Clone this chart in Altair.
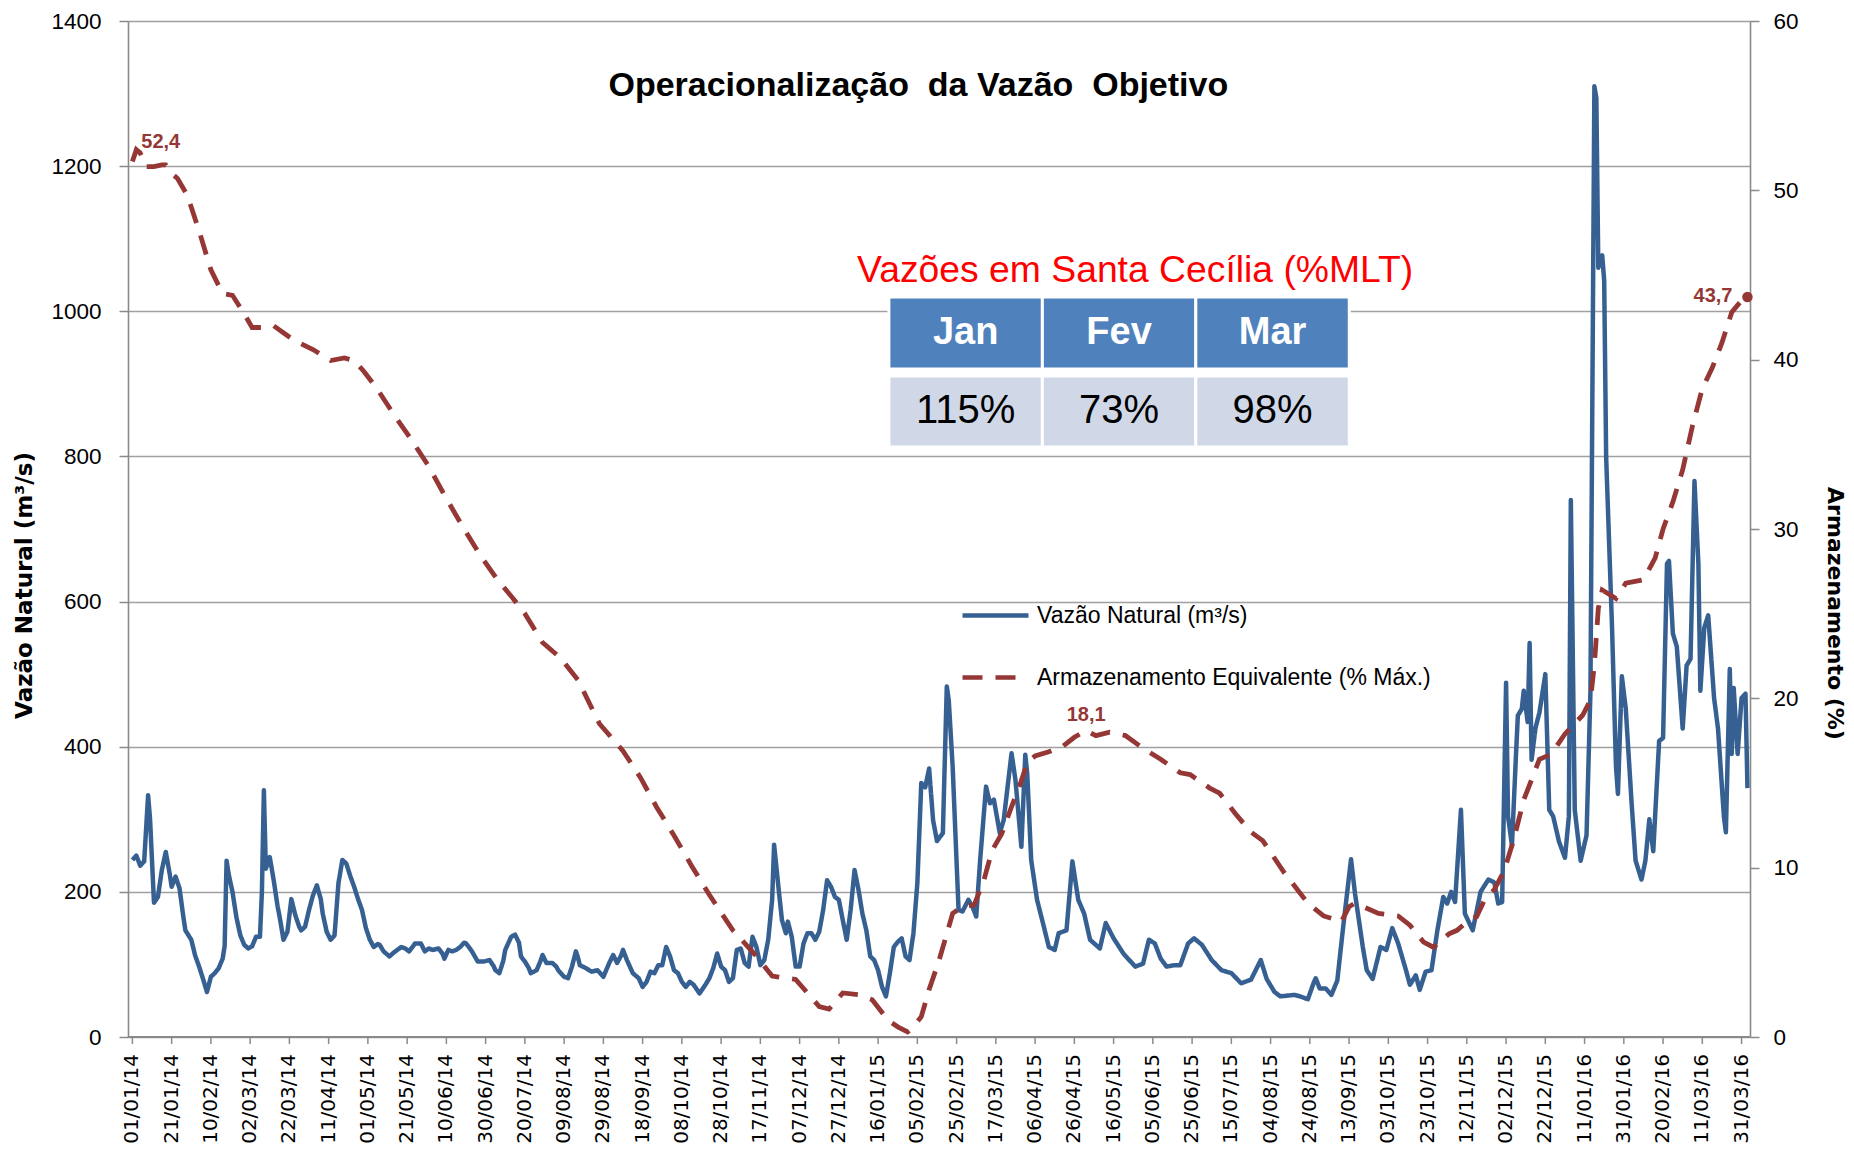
import calendar
import datetime as dt
import altair as alt
import pandas as pd

INICIO = dt.datetime(2014, 1, 1)

# ---------------- data (day offset from 01/01/14, value) ----------------
vazao_dia = [0, 2, 4, 6, 8, 9, 11, 13, 15, 17, 19, 20, 22, 24, 26, 27, 30, 32, 34, 36, 38, 40, 42, 44, 46, 47, 48, 49,
             51, 53, 55, 57, 59, 61, 63, 65, 66, 67, 68, 70, 72, 74, 75, 77, 79, 81, 83, 85, 86, 88, 90, 92, 94, 96,
             97, 99, 101, 103, 105, 107, 109, 111, 113, 115, 117, 119, 121, 123, 125, 126, 128, 131, 133, 135, 137,
             139, 141, 143, 144, 147, 149, 151, 153, 156, 158, 159, 161, 163, 165, 167, 169, 170, 172, 173, 176, 179,
             182, 184, 185, 187, 189, 190, 193, 195, 197, 198, 200, 202, 203, 206, 208, 209, 211, 214, 216, 217, 220,
             222, 224, 226, 227, 228, 231, 234, 237, 240, 243, 245, 247, 249, 250, 252, 255, 258, 260, 262, 264, 266,
             268, 270, 272, 274, 276, 278, 280, 282, 284, 286, 289, 292, 294, 296, 298, 300, 302, 304, 306, 308, 310,
             312, 314, 316, 318, 320, 322, 324, 326, 327, 329, 331, 333, 334, 336, 338, 340, 342, 344, 346, 348, 350,
             352, 354, 356, 358, 360, 362, 364, 366, 368, 370, 372, 374, 376, 378, 380, 382, 384, 386, 388, 390, 392,
             394, 396, 398, 400, 402, 404, 406, 408, 410, 413, 415, 416, 418, 421, 423, 426, 428, 430, 432, 435, 437,
             439, 442, 444, 448, 450, 453, 455, 456, 458, 461, 464, 467, 470, 472, 476, 479, 482, 485, 488, 493, 496,
             500, 505, 511, 515, 518, 521, 524, 527, 531, 534, 538, 541, 545, 550, 555, 560, 565, 570, 575, 578, 582,
             585, 592, 595, 599, 602, 603, 605, 608, 611, 614, 617, 621, 623, 627, 629, 632, 636, 639, 642, 645, 649,
             651, 654, 656, 659, 662, 665, 668, 670, 672, 674, 677, 679, 683, 687, 691, 694, 696, 698, 700, 701, 703,
             705, 706, 708, 709, 711, 712, 713, 715, 717, 720, 722, 724, 727, 730, 732, 733, 735, 738, 741, 743, 745,
             746, 747, 749, 750, 751, 754, 756, 757, 759, 761, 764, 766, 769, 771, 773, 775, 778, 780, 782, 783, 785,
             787, 790, 792, 794, 796, 798, 799, 801, 803, 806, 808, 811, 812, 814, 815, 816, 818, 820, 822, 823]
vazao_val = [244, 250, 236, 242, 333, 300, 185, 193, 230, 255, 225, 207, 221, 205, 165, 147, 134, 112, 97, 80, 62, 83,
             88, 95, 108, 125, 243, 225, 200, 165, 140, 127, 122, 125, 138, 138, 200, 340, 232, 248, 216, 180, 166, 134,
             145, 190, 168, 152, 147, 152, 175, 195, 209, 190, 170, 145, 134, 140, 212, 244, 239, 222, 207, 190, 175,
             150, 134, 124, 128, 127, 118, 111, 116, 120, 124, 122, 118, 125, 129, 129, 118, 122, 120, 122, 115, 108,
             120, 118, 120, 124, 130, 129, 122, 118, 104, 104, 106, 98, 92, 88, 105, 120, 138, 141, 130, 111, 104, 95,
             88, 92, 105, 113, 102, 102, 97, 92, 83, 81, 97, 118, 110, 99, 95, 90, 92, 83, 102, 113, 102, 112, 120,
             106, 88, 81, 69, 76, 90, 88, 99, 99, 124, 111, 92, 88, 76, 69, 76, 72, 60, 72, 81, 95, 115, 97, 92, 76,
             81, 120, 122, 102, 97, 138, 124, 99, 106, 134, 189, 265, 212, 161, 143, 159, 138, 97, 97, 129, 143, 143,
             134, 145, 175, 216, 207, 193, 189, 161, 134, 175, 230, 203, 170, 147, 111, 106, 92, 69, 56, 88, 124, 131,
             136, 111, 106, 143, 212, 350, 344, 370, 299, 270, 281, 483, 464, 372, 175, 173, 189, 180, 166, 244, 345,
             322, 327, 281, 299, 391, 354, 262, 389, 363, 244, 189, 157, 124, 120, 143, 147, 242, 189, 170, 134, 122,
             157, 136, 115, 97, 101, 134, 129, 108, 97, 99, 99, 129, 136, 127, 106, 92, 88, 74, 79, 106, 80, 62, 56,
             58, 56, 52, 75, 81, 67, 67, 58, 78, 152, 245, 198, 124, 92, 80, 124, 120, 150, 129, 92, 72, 85, 65, 90,
             92, 147, 193, 184, 200, 186, 313, 170, 147, 200, 217, 213, 184, 186, 488, 304, 264, 386, 443, 452, 477,
             434, 543, 382, 426, 447, 500, 313, 304, 269, 247, 304, 740, 313, 243, 278, 477, 1310, 1294, 1060, 1077,
             1042, 799, 564, 373, 335, 497, 452, 321, 243, 217, 243, 300, 256, 408, 412, 652, 656, 556, 538, 425, 512,
             521, 766, 652, 477, 564, 581, 467, 425, 304, 282, 507, 390, 481, 390, 467, 473, 343]

arm_dia = [0, 2, 4, 7, 11, 15, 17, 20, 23, 28, 34, 40, 46, 51, 57, 61, 66, 72, 78, 83, 92, 101, 108, 113, 118, 124,
           133, 142, 151, 159, 168, 177, 186, 194, 200, 209, 218, 227, 238, 250, 259, 267, 276, 285, 294, 306, 317,
           326, 338, 344, 350, 355, 362, 370, 377, 385, 390, 395, 398, 402, 406, 411, 415, 418, 423, 429, 434, 438,
           443, 448, 452, 456, 460, 467, 474, 480, 486, 491, 498, 506, 515, 524, 534, 539, 549, 554, 562, 570, 576,
           580, 587, 591, 599, 607, 614, 616, 620, 623, 629, 635, 645, 651, 658, 663, 666, 671, 675, 681, 685, 689,
           694, 699, 704, 709, 713, 717, 723, 730, 739, 743, 745, 747, 749, 756, 761, 770, 776, 780, 785, 790, 795,
           800, 805, 810, 815, 820, 823]
arm_val = [51.7, 52.4, 52.2, 51.4, 51.4, 51.5, 51.5, 51.0, 50.7, 49.7, 47.6, 45.3, 43.9, 43.8, 42.7, 41.9, 41.9, 42.0,
           41.5, 41.1, 40.6, 39.95, 40.1, 39.95, 39.3, 38.4, 36.8, 35.3, 33.7, 32.0, 30.2, 28.5, 27.0, 25.9, 25.0,
           23.3, 22.4, 21.1, 18.5, 16.9, 15.3, 13.6, 11.9, 10.1, 8.4, 6.3, 4.9, 3.6, 3.4, 2.6, 1.8, 1.65, 2.6, 2.5,
           2.2, 1.0, 0.6, 0.3, 0.6, 1.2, 2.8, 4.5, 6.1, 7.3, 7.7, 7.8, 9.3, 11.0, 12.0, 13.6, 14.8, 16.2, 16.6, 16.85,
           17.15, 17.7, 18.1, 17.8, 18.0, 17.8, 17.05, 16.4, 15.6, 15.5, 14.7, 14.4, 13.2, 12.1, 11.6, 10.9, 9.7, 9.1,
           7.9, 7.15, 6.9, 6.8, 7.7, 7.9, 7.6, 7.3, 7.15, 6.6, 5.6, 5.3, 5.6, 6.1, 6.3, 6.9, 7.1, 8.1, 8.7, 9.8, 11.7,
           14.0, 15.2, 16.4, 16.7, 17.9, 19.0, 19.9, 22.0, 25.3, 26.4, 25.9, 26.8, 27.0, 28.3, 30.0, 31.6, 33.5, 36.1,
           38.3, 39.5, 41.0, 42.8, 43.5, 43.7]

rotulo_dia = [2, 486, 823]
rotulo_val = [52.4, 18.1, 43.7]

meses = ["Jan", "Fev", "Mar"]
mlt = ["115%", "73%", "98%"]

rotulos_x = ["01/01/14", "21/01/14", "10/02/14", "02/03/14", "22/03/14", "11/04/14", "01/05/14", "21/05/14",
             "10/06/14", "30/06/14", "20/07/14", "09/08/14", "29/08/14", "18/09/14", "08/10/14", "28/10/14",
             "17/11/14", "07/12/14", "27/12/14", "16/01/15", "05/02/15", "25/02/15", "17/03/15", "06/04/15",
             "26/04/15", "16/05/15", "05/06/15", "25/06/15", "15/07/15", "04/08/15", "24/08/15", "13/09/15",
             "03/10/15", "23/10/15", "12/11/15", "02/12/15", "22/12/15", "11/01/16", "31/01/16", "20/02/16",
             "11/03/16", "31/03/16"]
rotulos_esq = [0, 200, 400, 600, 800, 1000, 1200, 1400]
rotulos_dir = [0, 10, 20, 30, 40, 50, 60]

serie_vazao = "Vazão Natural (m³/s)"
serie_arm = "Armazenamento Equivalente (% Máx.)"
titulo = "Operacionalização\u00a0 da Vazão\u00a0 Objetivo"
subtitulo = "Vazões em Santa Cecília (%MLT)"

# ---------------- style ----------------
AZUL = "#366092"
VERM = "#953735"
CINZA_GRADE = "#A0A0A0"
CINZA_EIXO = "#8A8A8A"
F_ARIAL = "Liberation Sans"
F_VERD = "DejaVu Sans"
W, H = 1622, 1016


def ms(d):
    return calendar.timegm(d.timetuple()) * 1000 + d.microsecond // 1000


def data_ms(dias):
    return ms(INICIO + dt.timedelta(days=dias))


x_dom = [data_ms(-2.24), data_ms(824.3)]
x_scale = alt.Scale(type="utc", domain=x_dom)
yl_scale = alt.Scale(domain=[0, 1400], nice=False, zero=False)
yr_scale = alt.Scale(domain=[0, 60], nice=False, zero=False)

yl_axis = alt.Axis(values=rotulos_esq, format="d", orient="left", grid=True, gridColor=CINZA_GRADE, gridWidth=1.6,
                   domainColor=CINZA_EIXO, domainWidth=1.6, tickColor=CINZA_EIXO, tickWidth=1.5, tickSize=9,
                   labelPadding=18, labelFont=F_ARIAL, labelFontSize=22.5, labelColor="#000000",
                   title=serie_vazao, titleFont=F_VERD, titleFontSize=23, titleFontWeight="bold",
                   titleColor="#000000", titleAngle=270, titleAlign="center", titleBaseline="middle",
                   titleX=-104, titleY=564)

yr_axis = alt.Axis(values=rotulos_dir, format="d", orient="right", grid=False,
                   domainColor=CINZA_EIXO, domainWidth=1.6, tickColor=CINZA_EIXO, tickWidth=1.5, tickSize=9,
                   labelPadding=14, labelFont=F_ARIAL, labelFontSize=22.5, labelColor="#000000",
                   title="Armazenamento (%)", titleFont=F_VERD, titleFontSize=22, titleFontWeight="bold",
                   titleColor="#000000", titleAngle=90, titleAlign="center", titleBaseline="middle",
                   titleX=84, titleY=592)

legenda = alt.Legend(title=None, orient="none", legendX=832, legendY=559, symbolType="stroke",
                     symbolSize=4356, symbolStrokeWidth=4.5, labelFont=F_ARIAL, labelFontSize=23,
                     labelColor="#000000", labelLimit=800, rowPadding=14, labelOffset=6, padding=0)

nomes = [serie_vazao, serie_arm]
cor = alt.Color("serie:N", scale=alt.Scale(domain=nomes, range=[AZUL, VERM]), legend=legenda)
traco = alt.StrokeDash("serie:N", scale=alt.Scale(domain=nomes, range=[[1, 0], [20, 13]]), legend=legenda)

# ---------------- frames ----------------
df_vazao = pd.DataFrame({"data": [data_ms(d) for d in vazao_dia], "v": vazao_val, "serie": serie_vazao})
df_arm = pd.DataFrame({"data": [data_ms(d) for d in arm_dia], "v": arm_val, "serie": serie_arm})
df_rot = pd.DataFrame({"data": [data_ms(d) for d in rotulo_dia], "v": rotulo_val,
                       "t": [f"{v:.1f}".replace(".", ",") for v in rotulo_val]})
df_fim = df_arm.tail(1)
df_xt = pd.DataFrame({"data": [ms(dt.datetime.strptime(s, "%d/%m/%y")) for s in rotulos_x], "rot": rotulos_x})

# table layout (in chart coordinates: days / left-axis units)
COL0, COLW = 385.5, 78.2
celulas = pd.DataFrame({
    "mes": meses, "mlt": mlt,
    "x": [data_ms(COL0 + COLW * i) for i in range(len(meses))],
    "x2": [data_ms(COL0 + COLW * (i + 1)) for i in range(len(meses))],
    "xc": [data_ms(COL0 + COLW * (i + 0.5)) for i in range(len(meses))],
    "cy": 920.5, "cy2": 1019.7, "cyc": 970.0,
    "by": 813.0, "by2": 910.9, "byc": 862.0,
})
df_tit = pd.DataFrame({"data": [data_ms(400.5)], "v": [1310], "t": [titulo]})
df_sub = pd.DataFrame({"data": [data_ms(511.0)], "v": [1055], "t": [subtitulo]})


def X(field="data"):
    return alt.X(f"{field}:T", scale=x_scale, axis=None)


def YL(field):
    return alt.Y(f"{field}:Q", scale=yl_scale, axis=None)


def YR(field):
    return alt.Y(f"{field}:Q", scale=yr_scale, axis=None)


# ---------------- marks ----------------
linha_vazao = alt.Chart(df_vazao).mark_line(strokeWidth=4.5, strokeJoin="round").encode(
    x=X(), y=alt.Y("v:Q", scale=yl_scale, axis=yl_axis), color=cor, strokeDash=traco)
linha_arm = alt.Chart(df_arm).mark_line(strokeWidth=4.8, strokeCap="butt").encode(
    x=X(), y=alt.Y("v:Q", scale=yr_scale, axis=yr_axis), color=cor, strokeDash=traco)

# time axis: base line, ticks and rotated labels
eixo_x_base = alt.Chart(df_xt).mark_rule(color=CINZA_EIXO, strokeWidth=1.8).encode(
    x=alt.value(0), x2=alt.value(W), y=alt.value(H))
ticks_x = alt.Chart(df_xt).mark_rule(color=CINZA_EIXO, strokeWidth=1.5).encode(
    x=X(), y=alt.value(H), y2=alt.value(H + 7))
rot_x = alt.Chart(df_xt).mark_text(font=F_VERD, fontSize=20, color="black", angle=270,
                                   align="right", baseline="middle").encode(
    x=X(), y=alt.value(H + 17), text="rot:N")

cab = alt.Chart(celulas).mark_rect(fill="#4F81BD", stroke="white", strokeWidth=3).encode(
    x=X("x"), x2="x2", y=YL("cy"), y2="cy2")
corpo = alt.Chart(celulas).mark_rect(fill="#D0D8E8", stroke="white", strokeWidth=3).encode(
    x=X("x"), x2="x2", y=YL("by"), y2="by2")
cab_txt = alt.Chart(celulas).mark_text(font=F_ARIAL, fontSize=38, fontWeight="bold", color="white",
                                       baseline="middle", align="center").encode(
    x=X("xc"), y=YL("cyc"), text="mes:N")
corpo_txt = alt.Chart(celulas).mark_text(font=F_ARIAL, fontSize=40, color="black",
                                         baseline="middle", align="center").encode(
    x=X("xc"), y=YL("byc"), text="mlt:N")
tit = alt.Chart(df_tit).mark_text(font=F_ARIAL, fontSize=34, fontWeight="bold", color="black",
                                  baseline="middle", align="center").encode(
    x=X(), y=YL("v"), text="t:N")
sub = alt.Chart(df_sub).mark_text(font=F_ARIAL, fontSize=37.3, color="#FF0000",
                                  baseline="middle", align="center").encode(
    x=X(), y=YL("v"), text="t:N")

ponto = alt.Chart(df_fim).mark_point(filled=True, size=110, color=VERM, opacity=1).encode(
    x=X(), y=YR("v"))
rot_base = alt.Chart(df_rot).encode(x=X(), y=YR("v"), text="t:N")
rot1 = rot_base.transform_filter(alt.datum.t == "52,4").mark_text(
    font=F_ARIAL, fontSize=20, fontWeight="bold", color=VERM, align="left", baseline="middle", dx=5, dy=-8)
rot2 = rot_base.transform_filter(alt.datum.t == "18,1").mark_text(
    font=F_ARIAL, fontSize=20, fontWeight="bold", color=VERM, align="center", baseline="middle", dy=-16)
rot3 = rot_base.transform_filter(alt.datum.t == "43,7").mark_text(
    font=F_ARIAL, fontSize=20, fontWeight="bold", color=VERM, align="right", baseline="middle", dx=-15, dy=-1)

chart = alt.layer(
    linha_vazao, eixo_x_base, ticks_x, rot_x, cab, corpo, cab_txt, corpo_txt, tit, sub,
    linha_arm, ponto, rot1, rot2, rot3
).resolve_scale(y="independent").properties(
    width=W, height=H,
    background="white",
    autosize=alt.AutoSizeParams(type="none"),
    padding={"left": 120, "top": 13, "right": 96, "bottom": 107},
).configure_view(strokeOpacity=0)

chart.save("out.html", embed_options={"renderer": "svg", "actions": False})
